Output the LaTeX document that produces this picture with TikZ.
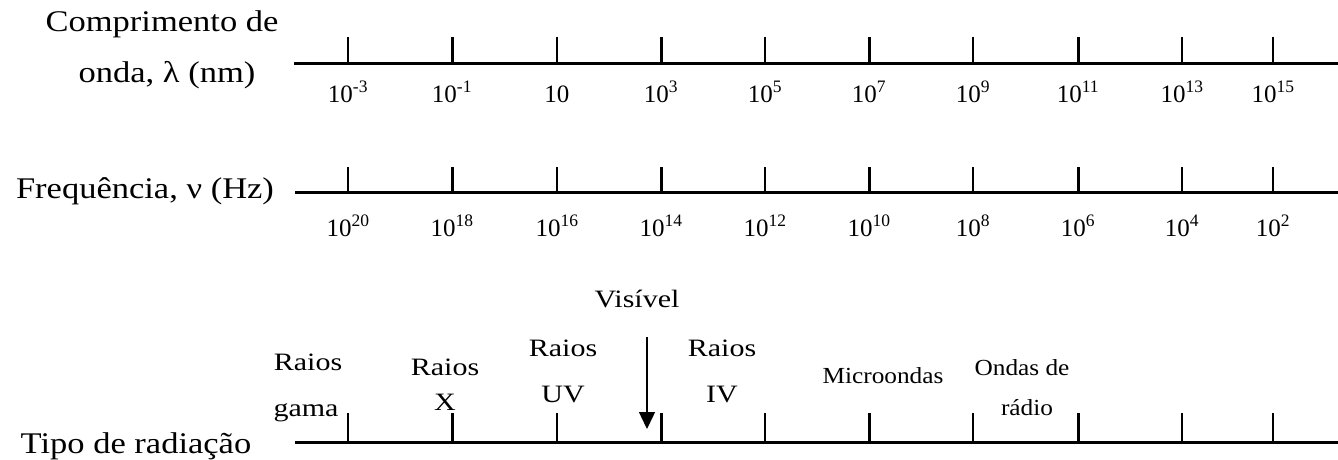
\documentclass[tikz,border=0pt]{standalone}
\usepackage{fontspec}
\setmainfont{Liberation Serif}
\newfontfamily\titlefont{Liberation Serif}[FakeStretch=1.15]
\newfontfamily\kindfont{Liberation Serif}[FakeStretch=1.2]
\newfontfamily\smallfont{Liberation Serif}[FakeStretch=1.1]
\usetikzlibrary{arrows.meta}
\begin{document}
\begin{tikzpicture}[x=1pt,y=-1pt,
  axisline/.style={line width=3pt},
  ticka/.style={line width=1.4pt},
  tickb/.style={line width=3pt},
  title/.style={font=\titlefont\fontsize{30}{36}\selectfont, inner sep=0pt, anchor=base},
  val/.style={font=\fontsize{25}{30}\selectfont, inner sep=0pt, anchor=base},
  kind/.style={font=\kindfont\fontsize{25}{30}\selectfont, inner sep=0pt, anchor=base},
  small/.style={font=\smallfont\fontsize{23}{28}\selectfont, inner sep=0pt, anchor=base},
  pointer/.style={line width=1.4pt, -{Triangle[width=16pt,length=17pt]}}]
\useasboundingbox (0,0) rectangle (1338,460);

% titles
\node[title] (t1) at (162,32) {Comprimento de};
\node[title] (t2) at (167,82) {onda, λ (nm)};
\node[title] (t3) at (145,198) {Frequência, ν (Hz)};
\node[title] (t4) at (136,453) {Tipo de radiação};

% axis lines
\coordinate (wl) at (294,64);   \coordinate (wr) at (1338,64);
\coordinate (fl) at (295,192);  \coordinate (fr) at (1338,192);
\coordinate (rl) at (295,442);  \coordinate (rr) at (1338,442);
\draw[axisline] (wl) -- (wr);
\draw[axisline] (fl) -- (fr);
\draw[axisline] (rl) -- (rr);

% ticks
\foreach \x/\s [count=\i] in {348/ticka,452/tickb,557/ticka,661/tickb,765/ticka,869/tickb,973/ticka,1078/tickb,1182/ticka,1273/ticka}{
  \coordinate (wa\i) at (\x,37);  \coordinate (wb\i) at (\x,64);
  \coordinate (fa\i) at (\x,167); \coordinate (fb\i) at (\x,192);
  \coordinate (ra\i) at (\x,413); \coordinate (rb\i) at (\x,442);
  \draw[\s] (wa\i) -- (wb\i);
  \draw[\s] (fa\i) -- (fb\i);
  \draw[\s] (ra\i) -- (rb\i);
}

% wavelength labels
\foreach \x/\e [count=\i] in {348/{-3},452/{-1},557/{},661/3,765/5,869/7,973/9,1078/11,1182/13,1273/15}{
  \node[val] (wv\i) at (\x,102) {10\textsuperscript{\e}};
}
% frequency labels
\foreach \x/\e [count=\i] in {348/20,452/18,557/16,661/14,765/12,869/10,973/8,1078/6,1182/4,1273/2}{
  \node[val] (fv\i) at (\x,236) {10\textsuperscript{\e}};
}

% radiation types
\node[kind] (g1) at (308,370) {Raios};
\node[kind] (g2) at (306,416) {gama};
\node[kind] (x1) at (445,375) {Raios};
\node[kind] (x2) at (445,410) {X};
\node[kind] (u1) at (563,356) {Raios};
\node[kind] (u2) at (563,402) {UV};
\node[kind] (v1) at (637,307) {Visível};
\node[kind] (i1) at (722,356) {Raios};
\node[kind] (i2) at (722,402) {IV};
\node[small] (m1) at (883,383) {Microondas};
\node[small] (o1) at (1022,375) {Ondas de};
\node[small] (o2) at (1027,415) {rádio};

\coordinate (vs) at (647,337);
\coordinate (ve) at (647,429);
\draw[pointer] (vs) -- (ve);
\end{tikzpicture}
\end{document}
